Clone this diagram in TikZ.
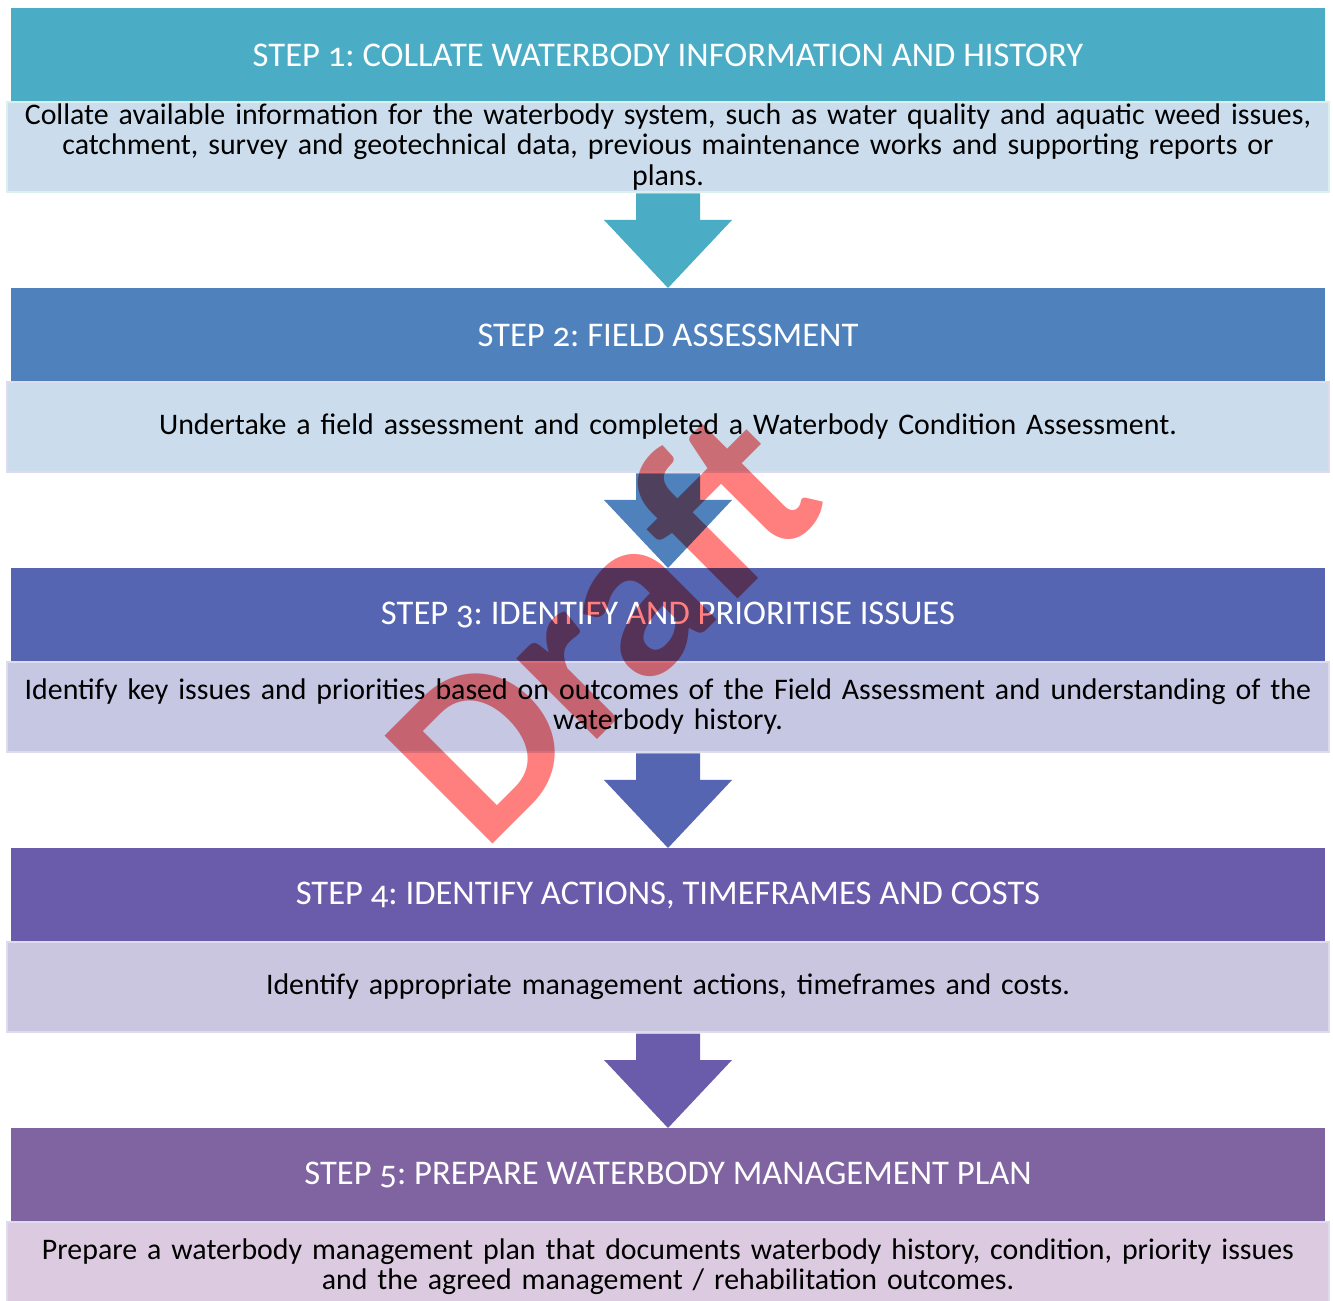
\documentclass[tikz,border=0pt]{standalone}
\usepackage{fontspec}
\setmainfont{Carlito}[Numbers=OldStyle]
\usepackage{xcolor}
\usetikzlibrary{positioning, calc}
\frenchspacing

\definecolor{headone}{HTML}{4BACC6}
\definecolor{headtwo}{HTML}{4F81BD}
\definecolor{headthree}{HTML}{5565B1}
\definecolor{headfour}{HTML}{6A5CAA}
\definecolor{headfive}{HTML}{8064A2}
\definecolor{bodyone}{HTML}{CBDDEC}
\definecolor{bodytwo}{HTML}{CBDCEC}
\definecolor{bodythree}{HTML}{C6C8E3}
\definecolor{bodyfour}{HTML}{CAC6E0}
\definecolor{bodyfive}{HTML}{DCCBE0}
\definecolor{rimone}{HTML}{DCEFEF}
\definecolor{rimtwo}{HTML}{DCDCEE}
\definecolor{draftred}{HTML}{FF7F7F}

\tikzset{
  stephead/.style={minimum width=26.28cm, minimum height=1.88cm, inner sep=0pt,
    outer sep=0pt, text=white, font=\fontsize{19.7}{22}\selectfont},
  stepbody/.style={minimum width=26.44cm, minimum height=1.8cm, inner sep=0pt,
    outer sep=0pt, line width=0.05cm, text width=26.2cm, align=center,
    font=\fontsize{17}{17.1}\selectfont},
  draftmark/.style={rotate=45, text=draftred, inner sep=0pt,
    font=\fontsize{134}{134}\selectfont\bfseries}
}

\begin{document}
\begin{tikzpicture}
    \useasboundingbox (0,0) rectangle (26.66,-26.02);

    % Step 1
    \node[stephead, fill=headone] (h1) at (13.36,-1.1) {STEP 1: COLLATE WATERBODY INFORMATION AND HISTORY};
    \node[stepbody, fill=bodyone, draw=rimone, below=0pt of h1] (b1) {Collate available information for the waterbody system, such as water quality and aquatic weed issues,\\ catchment, survey and geotechnical data, previous maintenance works and supporting reports or\\ plans.};

    % Step 2
    \node[stephead, fill=headtwo, below=1.92cm of b1] (h2) {STEP 2: FIELD ASSESSMENT};
    \node[stepbody, fill=bodytwo, draw=rimtwo, below=0pt of h2] (b2) {Undertake a field assessment and completed a Waterbody Condition Assessment.};

    % Step 3
    \node[stephead, fill=headthree, below=1.92cm of b2] (h3) {STEP 3: IDENTIFY AND PRIORITISE ISSUES};
    \node[stepbody, fill=bodythree, draw=rimtwo, below=0pt of h3] (b3) {Identify key issues and priorities based on outcomes of the Field Assessment and understanding of the\\ waterbody history.};

    % Step 4
    \node[stephead, fill=headfour, below=1.92cm of b3] (h4) {STEP 4: IDENTIFY ACTIONS, TIMEFRAMES AND COSTS};
    \node[stepbody, fill=bodyfour, draw=rimtwo, below=0pt of h4] (b4) {Identify appropriate management actions, timeframes and costs.};

    % Step 5
    \node[stephead, fill=headfive, below=1.92cm of b4] (h5) {STEP 5: PREPARE WATERBODY MANAGEMENT PLAN};
    \node[stepbody, fill=bodyfive, draw=rimtwo, below=0pt of h5] (b5) {Prepare a waterbody management plan that documents waterbody history, condition, priority issues\\ and the agreed management / rehabilitation outcomes.};

    % Block arrows between steps
    \foreach \a/\b/\c in {b1/h2/headone, b2/h3/headtwo, b3/h4/headthree, b4/h5/headfour}
        \fill[\c] ($(\a.south)+(-0.64,-0.03)$) -- ($(\a.south)+(0.64,-0.03)$)
            -- ($(\a.south)+(0.64,-0.56)$) -- ($(\a.south)+(1.28,-0.56)$)
            -- (\b.north) -- ($(\a.south)+(-1.28,-0.56)$)
            -- ($(\a.south)+(-0.64,-0.56)$) -- cycle;

    % Watermark
    \begin{scope}[blend mode=multiply]
        \node[draftmark] (draft) at (12.0,-12.45) {Draft};
    \end{scope}
\end{tikzpicture}
\end{document}
